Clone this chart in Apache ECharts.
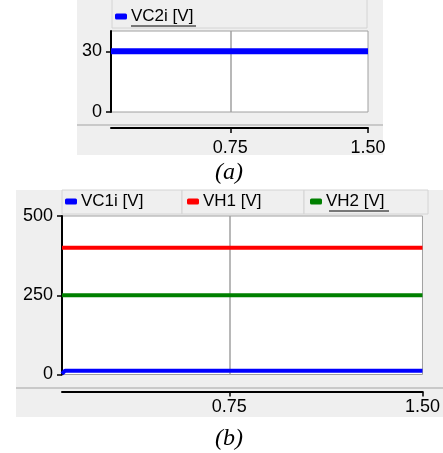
<!DOCTYPE html>
<html><head><meta charset="utf-8">
<script src="https://cdn.jsdelivr.net/npm/echarts@6/dist/echarts.min.js"></script>
<style>html,body{margin:0;padding:0;background:#fff}#c{width:443px;height:453px}</style>
</head><body><div id="c"></div>
<script>
// ---- data ----
const timeA = [0.1, 1.5];
const vc2i = [30, 30];
const timeB = [0.1, 0.104, 0.112, 1.5];
const vc1i = [2, 6, 12, 12];
const vh1 = [400, 400, 400, 400];
const vh2 = [250, 250, 250, 250];
const xTicks = [0.75, 1.5];
const yTicksA = [0, 30];
const yTicksB = [0, 250, 500];
const namesA = ['VC2i [V]'];
const namesB = ['VC1i [V]', 'VH1 [V]', 'VH2 [V]'];

const zip = (xs, ys) => xs.map((x, i) => [x, ys[i]]);
const FONT = 'Liberation Sans';
const BG = '#efefef';

const chart = echarts.init(document.getElementById('c'), null, {renderer: 'canvas'});

function xAxisFor(gi, offset, margin) {
  return {
    gridIndex: gi, type: 'value', min: timeA[0], max: timeA[timeA.length - 1],
    position: 'bottom', offset: offset,
    axisLine: {show: true, onZero: false, lineStyle: {color: '#000', width: 2}},
    axisTick: {show: true, length: 5, customValues: xTicks, lineStyle: {color: '#000', width: 1.5}},
    axisLabel: {customValues: xTicks, margin: margin, color: '#000', fontSize: 18, fontFamily: FONT,
      formatter: v => v.toFixed(2)},
    splitLine: {show: false}
  };
}
function yAxisFor(gi, max, ticks) {
  return {
    gridIndex: gi, type: 'value', min: 0, max: max,
    axisLine: {show: true, onZero: false, lineStyle: {color: '#000', width: 2}},
    axisTick: {show: true, length: 5, customValues: ticks, lineStyle: {color: '#000', width: 1.5}},
    axisLabel: {customValues: ticks, margin: 9, color: '#000', fontSize: 18, fontFamily: FONT},
    splitLine: {show: false}
  };
}
const vgrid = {
  silent: true, symbol: 'none', z: 1, label: {show: false},
  lineStyle: {color: '#a0a0a0', type: 'solid', width: 1.5},
  data: [{xAxis: xTicks[0]}]
};
function legendFor(name, left, top) {
  return {
    data: [name], left: left, top: top, padding: 0, itemWidth: 12, itemHeight: 6,
    icon: 'roundRect', itemGap: 0, selectedMode: false,
    textStyle: {color: '#000', fontSize: 17, fontFamily: FONT, padding: [0, 0, 0, -1]}
  };
}

chart.setOption({
  animation: false,
  backgroundColor: '#fff',
  grid: [
    {left: 111, top: 31, width: 257, height: 81, show: true, backgroundColor: '#fff', borderColor: '#a0a0a0', borderWidth: 1},
    {left: 62, top: 216, width: 366, height: 158.5, show: true, backgroundColor: '#fff', borderColor: '#a0a0a0', borderWidth: 1}
  ],
  xAxis: [xAxisFor(0, 16, 11), xAxisFor(1, 17, 7)],
  yAxis: [yAxisFor(0, 40, yTicksA), yAxisFor(1, 500, yTicksB)],
  legend: [
    legendFor(namesA[0], 115, 8),
    legendFor(namesB[0], 65, 193),
    legendFor(namesB[1], 187, 193),
    legendFor(namesB[2], 310, 193)
  ],
  graphic: [
    {type: 'rect', z: -10, shape: {x: 77, y: 0, width: 306, height: 155}, style: {fill: BG}},
    {type: 'rect', z: -9, shape: {x: 112, y: -1, width: 255, height: 29}, style: {fill: BG, stroke: '#d4d4d4', lineWidth: 1}},
    {type: 'line', z: -9, shape: {x1: 77, y1: 125, x2: 383, y2: 125}, style: {stroke: '#bdbdbd', lineWidth: 1.5}},
    {type: 'line', z: 5, shape: {x1: 131, y1: 26, x2: 196, y2: 26}, style: {stroke: '#000', lineWidth: 1}},
    {type: 'text', z: 5, x: 229, y: 173, style: {text: '(a)', font: 'italic 24px "Liberation Serif"', fill: '#000', align: 'center', verticalAlign: 'middle'}},

    {type: 'rect', z: -10, shape: {x: 16, y: 190, width: 427, height: 227}, style: {fill: BG}},
    {type: 'rect', z: -9, shape: {x: 62, y: 190, width: 120, height: 24}, style: {fill: BG, stroke: '#d4d4d4', lineWidth: 1}},
    {type: 'rect', z: -9, shape: {x: 182, y: 190, width: 122, height: 24}, style: {fill: BG, stroke: '#d4d4d4', lineWidth: 1}},
    {type: 'rect', z: -9, shape: {x: 304, y: 190, width: 124, height: 24}, style: {fill: BG, stroke: '#d4d4d4', lineWidth: 1}},
    {type: 'line', z: -9, shape: {x1: 16, y1: 388, x2: 443, y2: 388}, style: {stroke: '#bdbdbd', lineWidth: 1.5}},
    {type: 'line', z: 5, shape: {x1: 329, y1: 211, x2: 389, y2: 211}, style: {stroke: '#000', lineWidth: 1}},
    {type: 'text', z: 5, x: 229, y: 439, style: {text: '(b)', font: 'italic 24px "Liberation Serif"', fill: '#000', align: 'center', verticalAlign: 'middle'}}
  ],
  series: [
    {name: namesA[0], type: 'line', xAxisIndex: 0, yAxisIndex: 0, data: zip(timeA, vc2i), showSymbol: false, symbol: 'none',
      color: '#0000ff', lineStyle: {width: 6, color: '#0000ff'}, markLine: vgrid},
    {name: namesB[0], type: 'line', xAxisIndex: 1, yAxisIndex: 1, data: zip(timeB, vc1i), showSymbol: false, symbol: 'none',
      color: '#0000ff', lineStyle: {width: 4, color: '#0000ff'}, markLine: vgrid},
    {name: namesB[1], type: 'line', xAxisIndex: 1, yAxisIndex: 1, data: zip(timeB, vh1), showSymbol: false, symbol: 'none',
      color: '#ff0000', lineStyle: {width: 4, color: '#ff0000'}},
    {name: namesB[2], type: 'line', xAxisIndex: 1, yAxisIndex: 1, data: zip(timeB, vh2), showSymbol: false, symbol: 'none',
      color: '#008000', lineStyle: {width: 4, color: '#008000'}}
  ]
});
</script>
</body></html>
